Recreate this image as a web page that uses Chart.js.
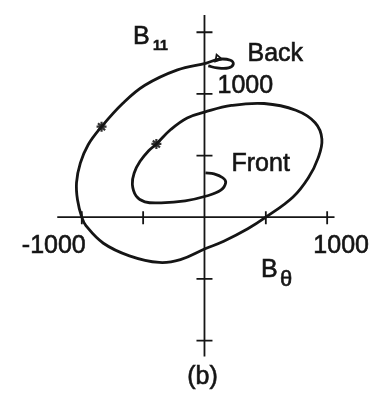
<!DOCTYPE html>
<html>
<head>
<meta charset="utf-8">
<script src="https://cdn.jsdelivr.net/npm/chart.js@4.4.1/dist/chart.umd.min.js"></script>
<style>
html, body { margin: 0; padding: 0; background: #fff; }
#hodo { display: block; }
</style>
</head>
<body>
<canvas id="hodo" width="380" height="393"></canvas>
<script>
// hodogram trace, B_theta vs B_parallel, from the front end (inside) out to the back end
const bTheta = [8, 78, 149, 173, 133, 16, -157, -353, -486, -557, -588, -573, -525, -455, -392,
    -275, -141, 0, 220, 486, 745, 902, 957, 925, 847, 722, 500, 353, 157, 0, -196, -369,
    -612, -824, -965, -1000, -1035, -1043, -1012, -949, -839, -667, -486, -220, 16, 118, 212, 235, 196, 102, 31];
const bPar = [359, 352, 320, 281, 219, 172, 133, 117, 125, 172, 266, 359, 453, 539, 594,
    711, 805, 852, 906, 922, 867, 766, 633, 477, 320, 164, 0, -94, -195, -258, -344, -367,
    -313, -211, -70, 0, 141, 281, 438, 586, 734, 922, 1070, 1195, 1250, 1281, 1273, 1242, 1211, 1211, 1227];

// marked points on the trace
const markTheta = [-839, -392];
const markPar = [734, 594];

// direction arrow near the back end
const arrowTheta = [110];
const arrowPar = [1288];

// axis ticks and extents
const xTicks = [-1000, -500, 500, 1000];
const yTicks = [-1000, -500, 500, 1000, 1500];
const xAxisRange = [-1200, 1060];
const yAxisRange = [-1130, 1640];

function toPoints(xs, ys){
    var pts = [];
    for(let i = 0; i < xs.length; i++){
        pts.push({x: xs[i], y: ys[i]});
    }
    return pts;
}

const ink = "#151515";
const labelFont = "'Liberation Sans', Arial, sans-serif";

// filled text with a thin outline so it reads a bit heavier
function label(ctx, text, x, y){
    ctx.fillText(text, x, y);
    ctx.strokeText(text, x, y);
}

// axes crossing at the origin, ticks on both sides
const crossAxes = {
    id: "crossAxes",
    beforeDatasetsDraw(chart){
        const ctx = chart.ctx;
        const xs = chart.scales.x, ys = chart.scales.y;
        const x0 = xs.getPixelForValue(0), y0 = ys.getPixelForValue(0);
        ctx.save();
        ctx.strokeStyle = ink;
        ctx.lineWidth = 1.8;
        ctx.beginPath();
        ctx.moveTo(xs.getPixelForValue(xAxisRange[0]), y0);
        ctx.lineTo(xs.getPixelForValue(xAxisRange[1]), y0);
        ctx.moveTo(x0, ys.getPixelForValue(yAxisRange[0]));
        ctx.lineTo(x0, ys.getPixelForValue(yAxisRange[1]));
        xTicks.forEach(v => {
            const p = xs.getPixelForValue(v);
            ctx.moveTo(p, y0 - 6);
            ctx.lineTo(p, y0 + 7);
        });
        yTicks.forEach(v => {
            const p = ys.getPixelForValue(v);
            ctx.moveTo(x0 - 8, p);
            ctx.lineTo(x0 + 8, p);
        });
        ctx.stroke();
        ctx.restore();
    },
    afterDatasetsDraw(chart){
        const ctx = chart.ctx;
        const xs = chart.scales.x, ys = chart.scales.y;
        const px = v => xs.getPixelForValue(v);
        const py = v => ys.getPixelForValue(v);
        ctx.save();
        ctx.fillStyle = ink;
        ctx.strokeStyle = ink;
        ctx.lineWidth = 0.6;
        ctx.textBaseline = "middle";
        ctx.font = "25px " + labelFont;

        ctx.textAlign = "left";
        label(ctx, "1000", px(0) + 13, py(1000) - 8);
        label(ctx, "Back", px(0) + 43, py(1320));
        label(ctx, "Front", px(0) + 27, py(430));

        ctx.textAlign = "center";
        label(ctx, "-1000", px(-1000) - 28, py(0) + 29);
        label(ctx, "1000", px(1000) + 14, py(0) + 29);
        label(ctx, "(b)", px(0) - 2, py(0) + 160);

        // axis names with subscripts
        ctx.textAlign = "left";
        label(ctx, "B", 133, 37);
        ctx.font = "bold 14px " + labelFont;
        label(ctx, "11", 153, 46);
        ctx.font = "25px " + labelFont;
        label(ctx, "B", 261, 270);
        ctx.font = "22px " + labelFont;
        label(ctx, "\u03b8", 280, 280);
        ctx.restore();
    }
};

new Chart("hodo", {
    type: "scatter",
    data: {
        datasets: [{
            data: toPoints(bTheta, bPar),
            showLine: true,
            borderColor: ink,
            borderWidth: 2.8,
            tension: 0.4,
            pointRadius: 0
        }, {
            data: toPoints(markTheta, markPar),
            pointStyle: "star",
            pointRadius: 5,
            borderColor: "#333",
            borderWidth: 2.2,
            backgroundColor: "#333"
        }, {
            data: toPoints(arrowTheta, arrowPar),
            pointStyle: "triangle",
            rotation: 100,
            pointRadius: 4,
            borderColor: ink,
            borderWidth: 1.8,
            backgroundColor: "#fff"
        }]
    },
    options: {
        responsive: false,
        animation: false,
        layout: {padding: 0},
        plugins: {
            legend: {display: false},
            tooltip: {enabled: false}
        },
        scales: {
            x: {type: "linear", display: false, min: -1608, max: 1372},
            y: {type: "linear", display: false, min: -1367, max: 1703}
        }
    },
    plugins: [crossAxes]
});
</script>
</body>
</html>
